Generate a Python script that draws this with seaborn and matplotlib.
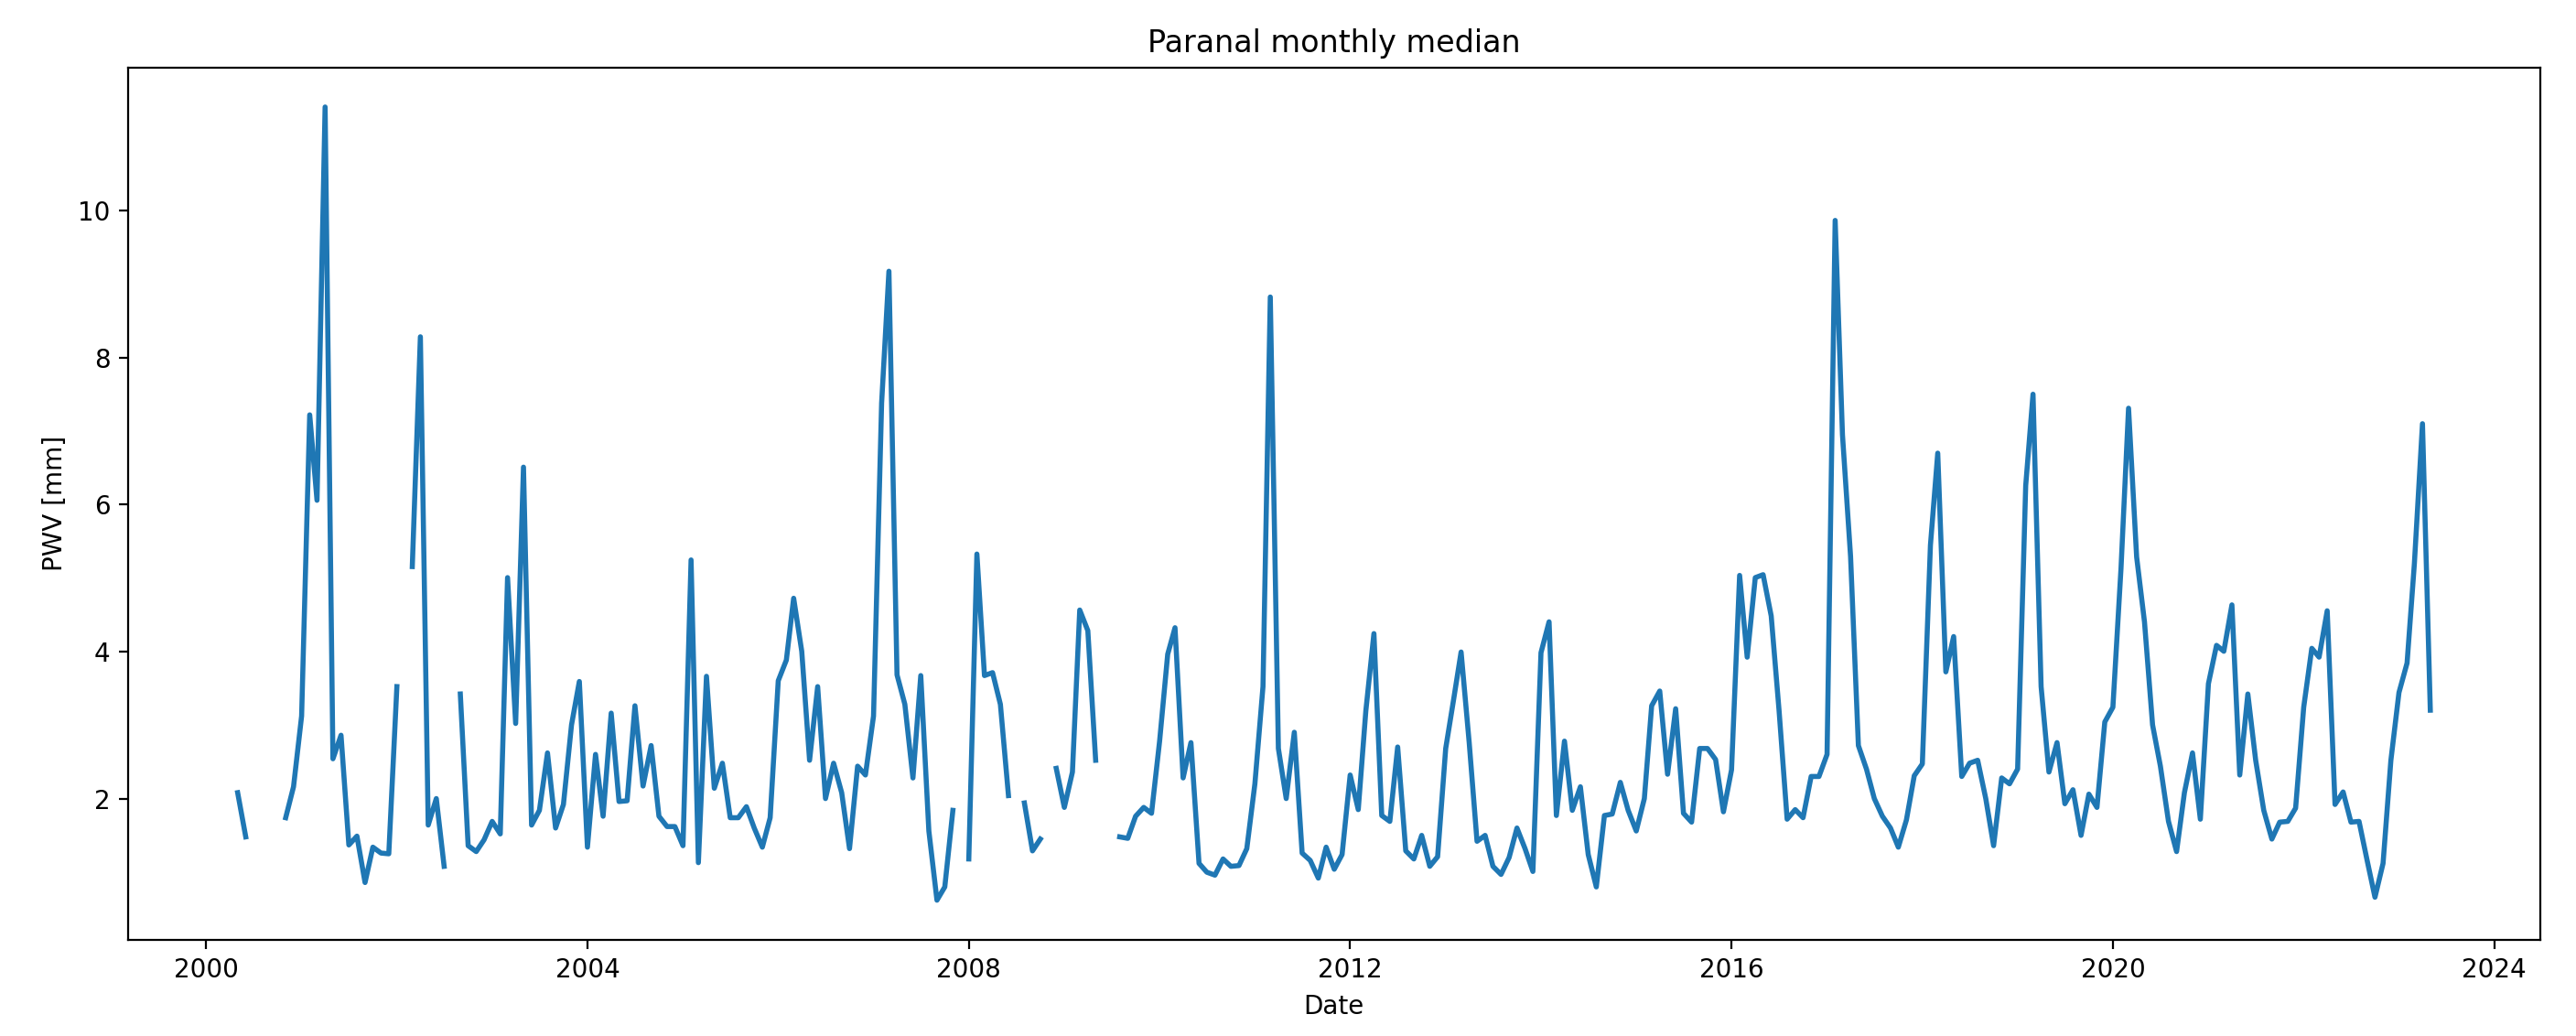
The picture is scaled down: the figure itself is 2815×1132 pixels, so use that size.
import numpy as np
import pandas as pd
import seaborn as sns
import matplotlib
matplotlib.use("Agg")
import matplotlib.pyplot as plt

nan = np.nan

# first month with data
start_month = "2000-05-01"

# monthly median PWV in mm, one row per year (gaps = no data)
pwv_mm = [
    2.09, 1.49, nan, nan, nan, nan, 1.75, 2.17,                            # 2000 (May-Dec)
    3.13, 7.22, 6.06, 11.40, 2.55, 2.87, 1.38, 1.50, 0.87, 1.35, 1.27, 1.26,  # 2001
    3.53, nan, 5.16, 8.28, 1.65, 2.01, 1.09, nan, 3.43, 1.37, 1.29, 1.45,    # 2002
    1.70, 1.53, 5.01, 3.03, 6.51, 1.65, 1.85, 2.63, 1.61, 1.93, 3.01, 3.60,  # 2003
    1.35, 2.61, 1.77, 3.17, 1.97, 1.98, 3.27, 2.18, 2.73, 1.77, 1.63, 1.63,  # 2004
    1.37, 5.25, 1.14, 3.67, 2.15, 2.49, 1.75, 1.75, 1.90, 1.61, 1.35, 1.75,  # 2005
    3.61, 3.89, 4.73, 4.01, 2.53, 3.53, 2.01, 2.49, 2.09, 1.33, 2.45, 2.33,  # 2006
    3.13, 7.38, 9.17, 3.69, 3.29, 2.29, 3.68, 1.57, 0.63, 0.81, 1.85, nan,   # 2007
    1.19, 5.33, 3.68, 3.72, 3.29, 2.05, nan, 1.95, 1.30, 1.46, nan, 2.42,    # 2008
    1.89, 2.37, 4.57, 4.29, 2.53, nan, nan, 1.49, 1.47, 1.77, 1.89, 1.81,    # 2009
    2.79, 3.97, 4.33, 2.29, 2.77, 1.13, 1.01, 0.97, 1.19, 1.09, 1.10, 1.33,  # 2010
    2.21, 3.53, 8.82, 2.69, 2.01, 2.91, 1.27, 1.17, 0.93, 1.35, 1.05, 1.25,  # 2011
    2.33, 1.86, 3.20, 4.25, 1.78, 1.70, 2.71, 1.30, 1.19, 1.51, 1.09, 1.22,  # 2012
    2.69, 3.37, 4.00, 2.77, 1.43, 1.51, 1.09, 0.98, 1.21, 1.61, 1.33, 1.02,  # 2013
    3.99, 4.41, 1.78, 2.79, 1.85, 2.17, 1.25, 0.81, 1.78, 1.80, 2.23, 1.85,  # 2014
    1.57, 2.01, 3.27, 3.47, 2.34, 3.23, 1.81, 1.69, 2.69, 2.69, 2.54, 1.83,  # 2015
    2.40, 5.04, 3.93, 5.01, 5.05, 4.49, 3.21, 1.73, 1.86, 1.75, 2.31, 2.31,  # 2016
    2.61, 9.86, 6.95, 5.30, 2.73, 2.41, 2.01, 1.77, 1.61, 1.35, 1.72, 2.32,  # 2017
    2.48, 5.45, 6.70, 3.73, 4.21, 2.31, 2.49, 2.53, 2.01, 1.37, 2.29, 2.21,  # 2018
    2.41, 6.26, 7.50, 3.53, 2.37, 2.77, 1.94, 2.13, 1.51, 2.07, 1.89, 3.05,  # 2019
    3.25, 5.13, 7.31, 5.29, 4.41, 3.01, 2.45, 1.70, 1.29, 2.09, 2.63, 1.73,  # 2020
    3.57, 4.09, 4.01, 4.64, 2.33, 3.43, 2.53, 1.85, 1.46, 1.69, 1.70, 1.88,  # 2021
    3.25, 4.05, 3.93, 4.56, 1.93, 2.10, 1.69, 1.70, 1.17, 0.67, 1.13, 2.53,  # 2022
    3.45, 3.85, 5.20, 7.10, 3.21,                                          # 2023 (Jan-May)
]

dates = pd.date_range(start_month, periods=len(pwv_mm), freq="MS")
df = pd.DataFrame({"Date": dates, "PWV": pwv_mm})

fig, ax = plt.subplots(figsize=(14.075, 5.66), dpi=200)
fig.subplots_adjust(left=0.0497, right=0.986, top=0.935, bottom=0.0928)

# plot each run of consecutive months separately so gaps stay visible
df["seg"] = df["PWV"].isna().cumsum()
for _, part in df.dropna().groupby("seg"):
    sns.lineplot(data=part, x="Date", y="PWV", ax=ax, color="#1f77b4", linewidth=2.0)

ax.set_title("Paranal monthly median")
ax.set_xlabel("Date")
ax.set_ylabel("PWV [mm]")

fig.savefig("out.png", dpi=200)
